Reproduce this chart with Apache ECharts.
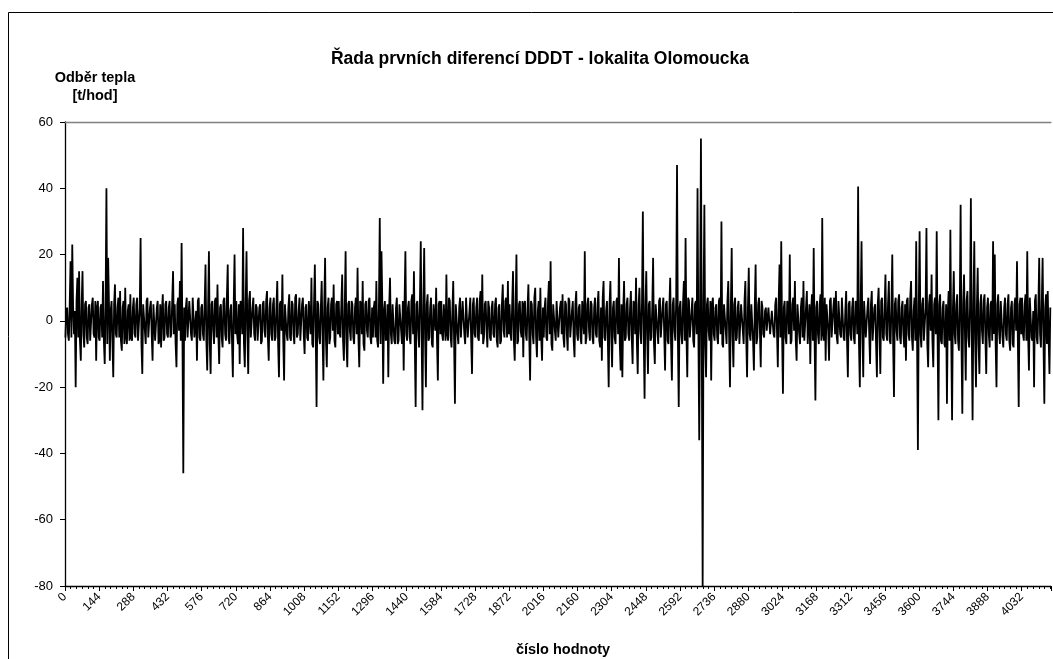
<!DOCTYPE html>
<html>
<head>
<meta charset="utf-8">
<script src="https://cdn.jsdelivr.net/npm/echarts@6/dist/echarts.min.js"></script>
<style>
html,body{margin:0;padding:0;background:#fff;}
#chart{width:1053px;height:659px;}
</style>
</head>
<body>
<div id="chart"></div>
<script>
// Title and axis texts
const chartTitle = 'Řada prvních diferencí DDDT - lokalita Olomoucka';
const yName = 'Odběr tepla\n[t/hod]';
const xName = 'číslo hodnoty';

// x axis: sample number, labelled every 144 samples
const sampleStep = 144;       // samples per labelled block
const sampleCount = 4155;     // last sample number on the axis
const valuesPerBlock = 40;    // values read per 144-sample block

// y axis
const yMin = -80, yMax = 60, yStep = 20;

// First differences, one list per 144-sample block
const b00 = [-5,3, 4,-4, -6,5, 18,-5, 23,4, -4,3, -20,6, 13,-5, 15,-6, -12,5, 15,-4, -8,5, 6,-5, -7,4, 5,-6, -6,5, 7,-4, -5,6, -12,4, 6,-5];
const b01 = [-6,4, 5,-5, 12,-6, -13,4, 40,-7, 19,5, -12,3, 6,-6, -17,5, 11,-4, -5,4, 7,-5, 9,-6, -9,4, 6,-7, 10,-5, -7,3, 5,-6, 8,-5, -6,4];
const b02 = [7,-4, -5,5, 7,-6, -6,4, 25,-7, -16,5, 5,-3, -7,6, 7,-5, -5,4, 6,-4, -12,5, 5,-6, -6,4, 6,-7, -6,5, -8,3, 8,-6, -5,5, 6,-4];
const b03 = [-5,4, 6,-5, -4,6, 15,-4, 5,-7, -14,5, 7,-3, 12,-6, 23.5,-5, -46,4, -6,4, 7,-5, -5,6, 6,-4, -6,7, 7,-5, -5,3, -12,6, 7,-5, -6,4];
const b04 = [5,-4, -6,5, 17,-6, -15,4, 21,-7, -16,5, 6,-3, -7,6, 7,-5, 11,-4, -13,4, 5,-5, -8,6, 7,-4, -6,7, 17,-5, -7,3, 5,-6, -17,5, 20,-4];
const b05 = [6,-4, -7,5, -13,6, 5,-4, 28,-7, -14,5, 21,-3, -16,6, 9,-5, -5,4, 7,-4, -6,5, 4,-6, -6,4, 5,-7, -6,5, 6,-3, -5,6, 9,-5, -12,4];
const b06 = [7,-4, -6,5, 7,-6, -5,4, 12,-7, -17,5, 6,-3, 14,-6, -18,5, 5,-4, -6,4, 8,-5, -6,6, 5,-4, -7,7, 8,-5, -4,3, 7,-6, -6,5, 7,-4];
const b07 = [-10,4, 5,-5, -6,6, 6,-4, 13,-7, -8,5, 17,-3, -26,6, 5,-5, -7,4, 12,-4, -18,5, 19,-6, -14,4, 7,-7, -5,5, 7,-3, 11,-6, -8,5, 6,-4];
const b08 = [6,-4, -5,5, 14,-6, -12,4, 21,-7, -14,5, 6,-3, -6,6, 5,-5, -7,4, 7,-4, 16,-5, -14,6, 5,-4, 12,-7, -9,5, 6,-3, -5,6, 7,-5, -7,4];
const b09 = [-5,4, 6,-5, 12,-6, -8,4, 31,-7, 21,5, -19,3, 6,-6, -5,5, -17,4, 13,-4, -7,5, 5,-6, -7,4, 7,-7, -6,5, 5,-3, -7,6, -15,5, 21,-4];
const b10 = [-6,4, 6,-5, -7,6, 8,-4, 15,-7, -26,5, 6,-3, -8,6, 24,-5, -27,4, 22,-4, -20,5, 8,-6, -5,4, 7,-7, -8,5, 5,-3, 10,-6, -18,5, 6,-4];
const b11 = [6,-4, -6,5, 5,-6, 14,-4, -6,7, 6,-5, -8,3, 12,-6, -25,5, 5,-4, -7,4, 7,-5, -5,6, 6,-4, -7,7, 7,-5, -5,3, 7,-6, -16,5, 7,-4];
const b12 = [-5,4, 7,-5, -6,6, 9,-4, 14,-7, -5,5, 6,-3, -8,6, 4,-5, -6,4, 6,-4, -5,5, 7,-6, -8,4, 5,-7, -6,5, 11,-3, -5,6, 7,-5, 12,-4];
const b13 = [5,-4, -6,5, 15,-6, -12,4, 20,-7, -6,5, 6,-3, -5,6, -11,5, 6,-4, -6,4, 11,-5, -18,6, 5,-4, -7,7, 10,-5, -11,3, 6,-6, 10,-5, -12,4];
const b14 = [-5,4, 7,-5, -6,6, 12,-4, 18,-7, -9,5, 5,-3, -6,6, 6,-5, -5,4, 6,-4, 8,-5, -8,6, 5,-4, -9,7, 6,-5, -5,3, 6,-6, -11,5, 9,-4];
const b15 = [-6,4, 5,-5, -7,6, 6,-4, 21,-7, -5,5, 7,-3, -6,6, 5,-5, -7,4, 7,-4, -5,5, 9,-6, -8,4, -12,7, 12,-5, -6,3, 6,-6, -20,5, 12,-4];
const b16 = [-14,4, 6,-5, -7,6, 7,-4, 19,-7, -15,5, -17,3, 12,-6, -5,5, 7,-4, -6,4, 9,-5, -13,6, 5,-4, 13,-7, -16,5, 10,-3, -7,6, 33,-5, -23.5,4];
const b17 = [15,-4, -16,5, 6,-6, -5,4, 19,-7, -13,5, 5,-3, -7,6, 7,-5, -5,4, 7,-4, -15,5, 6,-6, -7,4, 13,-7, -18,5, 7,-3, -6,6, 47,-5, -26,4];
const b18 = [6,-4, -7,5, 12,-6, 25,-4, -17,7, 6,-5, -5,3, 7,-6, -8,5, 6,-4, 40,-4, -36,5, 55,-6, -80,4, 35,-7, -17,5, 7,-3, -6,6, -18,5, 7,-4];
const b19 = [-6,4, 5,-5, -7,6, 7,-4, 30,-7, -8,5, 5,-3, -7,6, 12,-5, -20,4, 22,-4, -14,5, 7,-6, -5,4, 6,-7, -7,5, 5,-3, -7,6, 12,-5, -17,4];
const b20 = [16,-4, -6,5, 5,-6, -15,4, 17,-7, -5,5, 7,-3, -14,6, 4,-4, -5,3, 4,-3, -3,4, 4,-4, -4,3, 3,-4, -5,5, 7,-3, -14,6, 17,-5, 24,-4];
const b21 = [-22,4, 6,-5, -7,6, 5,-4, 20,-7, -6,5, 7,-3, 12,-6, -12,5, 5,-4, -7,4, 7,-5, 12,-6, -6,4, 9,-7, -7,5, -13,3, 8,-6, 22,-5, -24,4];
const b22 = [6,-4, -7,5, 8,-6, 31,-4, -6,7, -12,5, 5,-3, -12,6, 7,-5, -5,4, 7,-4, 9,-5, -7,6, 6,-4, -5,7, 7,-5, -6,3, 9,-6, -17,5, 6,-4];
const b23 = [-6,4, 7,-5, -7,6, 5,-4, 40.5,-7, -20,5, 24,-3, -17,6, 6,-5, -5,4, 7,-4, -13,5, 9,-6, -6,4, 5,-7, -17,5, 10,-3, -16,6, 7,-5, -6,4];
const b24 = [14,-4, -6,5, 12,-6, -7,4, 20,-7, -23,5, 7,-3, -6,6, 8,-5, -7,4, 6,-4, -8,5, -12,6, 7,-4, -6,7, 12,-5, -9,3, 7,-6, 24,-5, -39,4];
const b25 = [27,-4, -8,5, 7,-6, -6,4, 28,-7, -14,5, 8,-3, 14,-6, -14,5, 7,-4, 27,-4, -30,5, 8,-6, -7,4, 6,-7, -8,5, -25,3, 9,-6, 27.5,-5, -30,4];
const b26 = [15,-4, -7,5, 8,-6, -9,4, 35,-7, -28,5, 14,-3, -18,6, 9,-5, -8,4, 37,-4, -30,5, 24,-6, -20,4, 16,-7, -16,5, 8,-3, -7,6, 8,-5, -16,4];
const b27 = [7,-4, -8,5, 6,-6, 24,-4, 20,-7, -20,5, 8,-3, -7,6, 6,-5, -8,4, 7,-4, -6,5, 8,-6, -9,4, 6,-7, -8,5, 7,-3, 18,-6, -26,5, 7,-4];
const b28 = [7,-4, -6,5, 8,-6, 21,-4, -15,7, 7,-5, -6,3, -20,6, 8,-5, -7,4, 19,-4, -8,5, 19,-6, -25,4, 8,-7, 9,-5, -16,4];

const diffBlocks = [b00,b01,b02,b03,b04,b05,b06,b07,b08,b09,b10,b11,b12,b13,b14,
  b15,b16,b17,b18,b19,b20,b21,b22,b23,b24,b25,b26,b27,b28];

const slot = sampleStep / valuesPerBlock;
const seriesData = [];
diffBlocks.forEach((blk, b) => {
  blk.forEach((v, j) => { seriesData.push([b * sampleStep + (j + 0.5) * slot, v]); });
});

const font = '"Liberation Sans", Arial, sans-serif';
const chart = echarts.init(document.getElementById('chart'), null, {renderer: 'canvas'});
chart.setOption({
  animation: false,
  backgroundColor: '#ffffff',
  title: [
    {text: chartTitle, left: 535, top: 45, textAlign: 'center',
     textStyle: {fontFamily: font, fontSize: 17.5, fontWeight: 'bold', color: '#000'}},
    {text: yName, left: 90, top: 64, textAlign: 'center',
     textStyle: {fontFamily: font, fontSize: 14.5, fontWeight: 'bold', color: '#000', lineHeight: 18}},
    {text: xName, left: 558, top: 637, textAlign: 'center',
     textStyle: {fontFamily: font, fontSize: 14.5, fontWeight: 'bold', color: '#000'}}
  ],
  graphic: [{
    type: 'rect', shape: {x: 8.5, y: 12.5, width: 1100, height: 700},
    style: {fill: null, stroke: '#000', lineWidth: 1}, silent: true, z: 100
  }],
  grid: {left: 65, right: 1, top: 122, height: 464, containLabel: false},
  xAxis: [{
    type: 'value', min: 0, max: sampleCount, interval: sampleStep,
    axisLine: {show: true, onZero: false, lineStyle: {color: '#000', width: 1.3}},
    axisTick: {show: true, length: 5, lineStyle: {color: '#000'}},
    minorTick: {show: true, splitNumber: 6, length: 3, lineStyle: {color: '#000'}},
    splitLine: {show: false},
    axisLabel: {rotate: 45, margin: 9, fontFamily: font, fontSize: 12, color: '#000',
      formatter: v => (v % sampleStep === 0 ? String(v) : '')}
  }, {
    type: 'value', position: 'top', min: 0, max: sampleCount,
    axisLine: {show: true, onZero: false, lineStyle: {color: '#808080', width: 1.3}},
    axisTick: {show: false}, axisLabel: {show: false}, splitLine: {show: false}
  }],
  yAxis: {
    type: 'value', min: yMin, max: yMax, interval: yStep,
    axisLine: {show: true, onZero: false, lineStyle: {color: '#000', width: 1.3}},
    axisTick: {show: true, length: 5, lineStyle: {color: '#000'}},
    splitLine: {show: false},
    axisLabel: {margin: 12, fontFamily: font, fontSize: 13, color: '#000'}
  },
  series: [{
    type: 'line', xAxisIndex: 0, data: seriesData, showSymbol: false, symbol: 'none',
    sampling: null, lineStyle: {color: '#000', width: 1.8}, clip: true
  }]
});
</script>
</body>
</html>
